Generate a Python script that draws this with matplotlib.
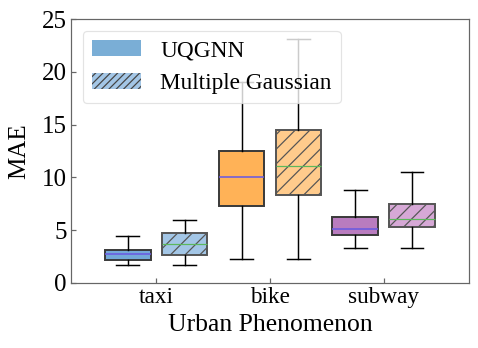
import matplotlib
matplotlib.use("Agg")
import matplotlib.pyplot as plt
from matplotlib.patches import Patch

plt.rcParams['font.family'] = ['Liberation Serif', 'DejaVu Serif']
plt.rcParams['hatch.linewidth'] = 1.0

categories = ["taxi", "bike", "subway"]
series = ["UQGNN", "Multiple Gaussian"]

# box statistics: whislo, q1, median, q3, whishi
uq_whislo = [1.7, 2.3, 3.3]
uq_q1 = [2.2, 7.25, 4.5]
uq_med = [2.7, 10.05, 5.15]
uq_q3 = [3.1, 12.5, 6.28]
uq_whishi = [4.45, 19.0, 8.85]

mg_whislo = [1.7, 2.3, 3.35]
mg_q1 = [2.62, 8.3, 5.3]
mg_med = [3.65, 11.05, 6.05]
mg_q3 = [4.75, 14.5, 7.48]
mg_whishi = [6.0, 23.1, 10.55]

base_colors = ["#74a9d8", "#ffb257", "#b97cbf"]
light_colors = ["#a3c6e6", "#ffcb8c", "#d6a8d6"]

dpi = 88
fig = plt.figure(figsize=(478 / dpi, 348 / dpi), dpi=dpi)
ax = fig.add_axes([0.1485, 0.1868, 0.8325, 0.7586])

def stats(lo, q1, med, q3, hi):
    return [dict(whislo=a, q1=b, med=c, q3=d, whishi=e, fliers=[])
            for a, b, c, d, e in zip(lo, q1, med, q3, hi)]

pos = list(range(len(categories)))
uq = ax.bxp(stats(uq_whislo, uq_q1, uq_med, uq_q3, uq_whishi),
            positions=[p - 0.25 for p in pos], widths=0.4, patch_artist=True,
            showfliers=False,
            boxprops=dict(edgecolor="#3a3a3a", linewidth=1.6),
            medianprops=dict(color="#6a5ae0", linewidth=1.3),
            whiskerprops=dict(color="black", linewidth=1.2),
            capprops=dict(color="black", linewidth=1.2))
mg = ax.bxp(stats(mg_whislo, mg_q1, mg_med, mg_q3, mg_whishi),
            positions=[p + 0.25 for p in pos], widths=0.4, patch_artist=True,
            showfliers=False,
            boxprops=dict(edgecolor="#555555", linewidth=1.6),
            medianprops=dict(color="#5cb85c", linewidth=1.0),
            whiskerprops=dict(color="black", linewidth=1.2),
            capprops=dict(color="black", linewidth=1.2))
for b, c in zip(uq["boxes"], base_colors):
    b.set_facecolor(c)
for b, c in zip(mg["boxes"], light_colors):
    b.set_facecolor(c)
    b.set_hatch("//")

ax.set_xlim(-0.75, 2.75)
ax.set_ylim(0, 25)
ax.set_xticks(pos)
ax.set_xticklabels(categories, fontsize=19)
ax.set_yticks([0, 5, 10, 15, 20, 25])
ax.tick_params(axis='y', labelsize=20.5)
ax.tick_params(direction='in', length=4, color="#666666", width=1)
for s in ax.spines.values():
    s.set_color("#666666")
    s.set_linewidth(1.0)
ax.set_xlabel("Urban Phenomenon", fontsize=21, labelpad=5)
ax.set_ylabel("MAE", fontsize=20.5, labelpad=9)

handles = [Patch(facecolor="#7aaed6", edgecolor="none", label=series[0]),
           Patch(facecolor="#a3c6e6", edgecolor="#444444", linewidth=0,
                 hatch="////", label=series[1])]
leg = ax.legend(handles=handles, loc="upper left", fontsize=19,
                handlelength=2.1, handleheight=0.7, handletextpad=0.85,
                borderaxespad=0.5, framealpha=0.8)
leg.get_frame().set_edgecolor("#dddddd")

fig.savefig("out.png", dpi=dpi)
